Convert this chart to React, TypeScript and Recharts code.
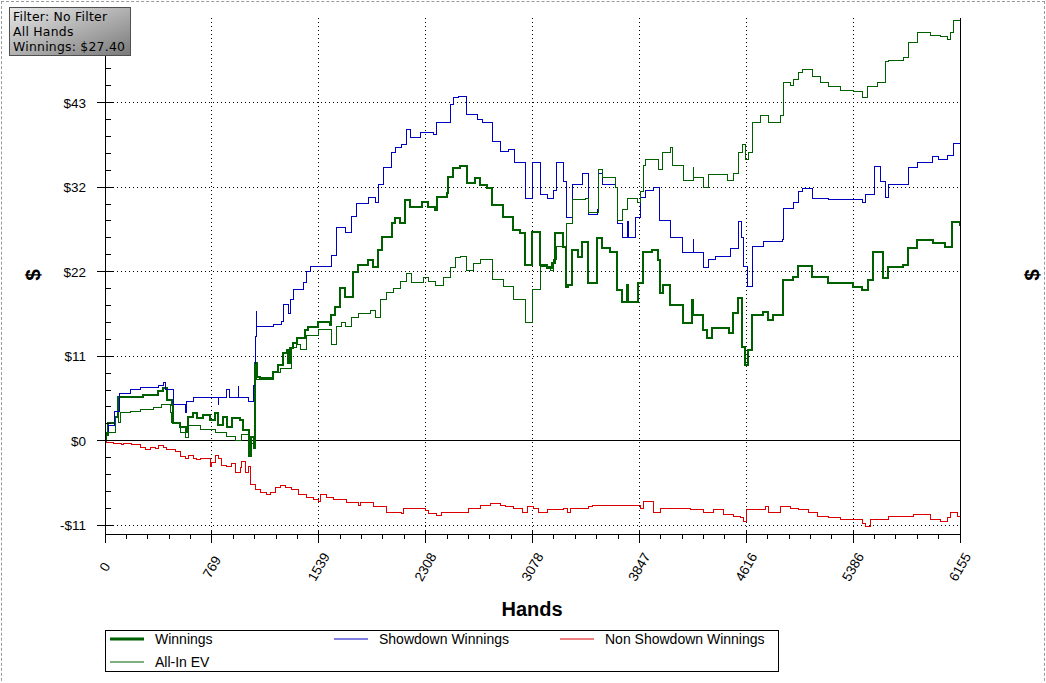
import React from 'react';
import { LineChart, Line, XAxis, YAxis, CartesianGrid, ReferenceLine } from 'recharts';

// ---- axis ticks ----
const xMajor = [0, 769.375, 1538.75, 2308.125, 3077.5, 3846.875, 4616.25, 5385.625, 6155];
const xLabels = ['0', '769', '1539', '2308', '3078', '3847', '4616', '5386', '6155'];
const yMajor = [-10.8, 0, 10.8, 21.6, 32.4, 43.2, 54];
const yLabels = ['-$11', '$0', '$11', '$22', '$32', '$43', '$54'];
const yDomain: [number, number] = [-11.9, 54];

// ---- series: [hand, dollars] ----
const winnings: [number, number][] = [
  [0, 0], [7, 0.8], [22, 2.3], [72, 3.1], [94, 5.6], [274, 5.9], [382, 6.3], [418, 6.8], [446, 5.2], [482, 4.6],
  [490, 2.3], [540, 1.8], [583, 1.1], [598, 3.1], [634, 3.6], [662, 2.9], [706, 3.3], [756, 2.7], [792, 3.6],
  [814, 2.0], [850, 3.1], [878, 1.8], [914, 2.9], [972, 2.7], [994, 1.4], [1037, -2.0], [1051, 0.5], [1073, -0.9],
  [1080, 10.0], [1094, 8.2], [1116, 8.0], [1210, 8.8], [1246, 9.7], [1282, 11.2], [1310, 11.6], [1318, 10.0],
  [1332, 11.9], [1354, 12.5], [1382, 13.1], [1440, 14.2], [1462, 14.6], [1534, 15.2], [1620, 14.8], [1627, 16.1],
  [1656, 17.1], [1692, 19.5], [1728, 18.4], [1786, 21.6], [1822, 22.5], [1894, 23.1], [1930, 22.2], [1966, 24.4],
  [1994, 26.0], [2066, 27.8], [2088, 28.5], [2124, 27.8], [2160, 30.8], [2196, 29.9], [2282, 30.5], [2326, 29.9],
  [2376, 29.5], [2390, 31.1], [2462, 31.7], [2470, 33.7], [2506, 34.9], [2556, 35.1], [2606, 32.9], [2664, 33.6],
  [2700, 32.7], [2750, 32.3], [2786, 30.1], [2866, 28.6], [2938, 26.9], [2988, 26.6], [3024, 22.5], [3074, 26.7],
  [3132, 22.5], [3182, 22.1], [3218, 22.7], [3240, 26.6], [3298, 24.8], [3319, 19.7], [3334, 19.9], [3362, 24.4],
  [3406, 23.5], [3434, 25.4], [3478, 20.2], [3542, 25.9], [3578, 24.6], [3636, 24.1], [3686, 19.3], [3722, 17.7],
  [3758, 19.9], [3766, 17.7], [3838, 20.2], [3874, 24.1], [3938, 24.4], [3982, 23.1], [3996, 18.9], [4018, 19.9],
  [4068, 17.4], [4162, 15.1], [4226, 18.0], [4234, 16.1], [4306, 14.2], [4334, 13.1], [4370, 14.4], [4493, 13.8],
  [4522, 16.3], [4558, 18.3], [4586, 12.0], [4608, 9.7], [4630, 11.6], [4658, 16.1], [4738, 16.5], [4774, 15.4],
  [4810, 16.1], [4882, 20.6], [4954, 20.9], [4990, 22.3], [5090, 20.9], [5206, 20.2], [5386, 19.7], [5450, 19.3],
  [5494, 20.6], [5530, 24.1], [5602, 20.8], [5638, 22.2], [5746, 22.5], [5782, 24.6], [5846, 25.7], [5962, 25.3],
  [6048, 24.8], [6098, 28.0], [6155, 27.4],
];

const showdown: [number, number][] = [
  [0, 0], [7, 1.1], [22, 2.0], [65, 3.7], [101, 6.1], [180, 6.5], [252, 6.8], [382, 7.1], [418, 7.4], [432, 6.5],
  [490, 4.6], [583, 3.6], [590, 5.0], [634, 5.5], [814, 4.6], [820, 5.5], [878, 6.6], [893, 5.5], [958, 6.9],
  [964, 5.5], [1030, 5.0], [1066, 7.1], [1080, 13.3], [1088, 16.5], [1094, 14.6], [1210, 14.8], [1274, 15.2],
  [1282, 17.4], [1318, 16.3], [1332, 18.1], [1354, 19.3], [1426, 20.2], [1454, 21.6], [1476, 22.2], [1627, 23.7],
  [1670, 27.3], [1728, 26.6], [1778, 28.6], [1807, 30.3], [1894, 31.1], [1944, 30.5], [1966, 32.7], [2002, 34.9],
  [2066, 36.8], [2088, 37.4], [2138, 37.8], [2167, 39.7], [2196, 38.7], [2268, 39.4], [2362, 39.1], [2390, 40.6],
  [2484, 42.9], [2506, 43.8], [2542, 44.0], [2599, 41.7], [2678, 41.0], [2714, 40.6], [2786, 38.2], [2844, 36.9],
  [2902, 37.2], [2945, 35.5], [3024, 31.0], [3074, 35.5], [3132, 31.4], [3182, 31.0], [3226, 32.0], [3247, 35.5],
  [3298, 33.1], [3319, 28.5], [3362, 32.7], [3434, 34.2], [3478, 28.9], [3542, 29.5], [3550, 34.2], [3578, 32.7],
  [3672, 32.4], [3686, 27.8], [3722, 26.0], [3758, 28.0], [3772, 26.0], [3816, 28.5], [3852, 31.1], [3888, 32.0],
  [3946, 32.4], [3989, 28.2], [4068, 26.0], [4154, 24.0], [4234, 25.7], [4240, 24.0], [4306, 22.1], [4342, 23.1],
  [4392, 23.5], [4500, 24.6], [4558, 28.0], [4579, 26.0], [4594, 22.2], [4622, 19.7], [4658, 24.8], [4738, 25.4],
  [4875, 25.7], [4882, 29.7], [4954, 30.4], [4990, 31.8], [5018, 32.2], [5090, 31.0], [5206, 30.8], [5450, 30.4],
  [5472, 31.4], [5537, 35.0], [5580, 33.1], [5616, 31.1], [5638, 32.7], [5782, 34.9], [5846, 35.6], [5954, 36.3],
  [5998, 35.9], [6062, 36.4], [6106, 38.0], [6155, 38.2],
];

const nonShowdown: [number, number][] = [
  [0, 0], [14, -0.2], [58, -0.4], [122, -0.5], [130, -0.3], [194, -0.5], [252, -0.9], [288, -1.1], [324, -0.9],
  [360, -1.0], [382, -0.6], [418, -0.9], [446, -1.1], [504, -1.4], [540, -2.0], [576, -2.2], [598, -1.9],
  [634, -2.2], [662, -2.4], [684, -2.2], [756, -3.3], [770, -2.8], [792, -1.9], [814, -2.2], [842, -3.2],
  [878, -3.3], [914, -2.9], [936, -4.0], [972, -3.4], [986, -2.6], [1008, -4.0], [1030, -3.3], [1044, -5.6],
  [1080, -6.2], [1116, -6.6], [1166, -6.9], [1188, -6.6], [1224, -6.0], [1260, -5.7], [1296, -5.9], [1346, -6.2],
  [1390, -6.9], [1454, -7.3], [1498, -7.5], [1534, -7.8], [1548, -6.9], [1598, -7.2], [1642, -7.5], [1742, -7.9],
  [1822, -8.2], [1836, -7.9], [1930, -8.4], [2030, -9.2], [2138, -9.3], [2146, -8.7], [2304, -8.9], [2326, -9.3],
  [2390, -9.6], [2426, -9.2], [2520, -9.1], [2614, -8.6], [2700, -8.3], [2772, -8.0], [2844, -8.2], [2880, -8.4],
  [2938, -8.6], [3002, -9.1], [3038, -8.4], [3082, -8.7], [3118, -9.1], [3182, -8.8], [3298, -8.6], [3326, -9.1],
  [3348, -8.6], [3478, -8.4], [3506, -8.2], [3852, -8.6], [3874, -7.8], [3946, -9.1], [3996, -8.6], [4212, -8.8],
  [4306, -9.1], [4378, -8.8], [4450, -9.4], [4522, -9.7], [4572, -9.8], [4594, -10.3], [4615, -8.8], [4752, -8.4],
  [4774, -9.1], [4860, -8.4], [4932, -8.6], [4990, -8.8], [5062, -9.2], [5126, -9.7], [5206, -9.8], [5292, -10.1],
  [5450, -10.5], [5472, -11.0], [5508, -10.1], [5638, -9.7], [5818, -9.4], [5940, -10.1], [6012, -10.3],
  [6062, -9.8], [6084, -9.2], [6134, -9.7], [6155, -9.7],
];

const allInEV: [number, number][] = [
  [0, 0], [14, 1.0], [72, 3.1], [94, 2.3], [108, 3.6], [180, 3.7], [252, 4.0], [346, 4.3], [410, 4.6], [468, 3.6],
  [482, 2.3], [540, 1.1], [583, 0.4], [598, 2.0], [684, 1.4], [792, 1.0], [878, 0.5], [936, 0.1], [986, 0.8],
  [1030, -0.3], [1066, 0.4], [1080, 9.7], [1094, 7.8], [1210, 8.7], [1260, 9.3], [1346, 11.9], [1382, 12.3],
  [1404, 11.6], [1454, 13.5], [1534, 14.2], [1634, 12.3], [1670, 14.6], [1706, 15.1], [1728, 14.6], [1778, 15.7],
  [1822, 16.3], [1908, 16.7], [1944, 15.7], [1980, 18.0], [2030, 18.9], [2074, 19.5], [2124, 20.3], [2174, 21.4],
  [2210, 20.2], [2290, 20.9], [2326, 20.3], [2376, 19.9], [2434, 20.8], [2484, 22.1], [2520, 23.4], [2556, 23.6],
  [2599, 21.8], [2650, 22.7], [2700, 23.1], [2786, 20.6], [2866, 19.7], [2938, 18.0], [3024, 15.1], [3074, 19.3],
  [3132, 22.2], [3204, 21.8], [3226, 23.1], [3247, 24.8], [3319, 27.8], [3362, 30.8], [3456, 31.0], [3478, 29.2],
  [3550, 34.6], [3578, 33.6], [3672, 32.4], [3686, 28.2], [3722, 29.5], [3758, 31.0], [3830, 30.5], [3852, 31.8],
  [3874, 35.2], [3888, 35.9], [3982, 34.6], [4010, 36.8], [4068, 37.4], [4082, 35.2], [4162, 33.3], [4234, 34.9],
  [4240, 33.6], [4306, 32.4], [4342, 34.0], [4478, 33.3], [4522, 34.2], [4558, 36.8], [4586, 37.8], [4608, 35.9],
  [4630, 36.8], [4658, 40.7], [4716, 41.6], [4774, 40.7], [4860, 41.6], [4882, 45.8], [4932, 45.4], [4954, 46.1],
  [4990, 47.1], [5018, 47.4], [5090, 46.5], [5148, 45.8], [5206, 45.2], [5292, 44.8], [5386, 44.6], [5450, 43.9],
  [5486, 45.2], [5558, 45.8], [5616, 48.4], [5638, 48.6], [5746, 49.0], [5782, 50.9], [5846, 52.1], [5940, 51.8],
  [6012, 51.6], [6062, 51.2], [6084, 52.2], [6106, 53.7], [6155, 53.5],
];

const rows = (pts: [number, number][]) => pts.map(([h, v]) => ({ h, v }));

// minor tick subdivisions (5 per major interval)
const subdivide = (majors: number[]) => {
  const out: number[] = [];
  majors.forEach((m, i) => {
    out.push(m);
    if (i < majors.length - 1) {
      const step = (majors[i + 1] - m) / 5;
      for (let j = 1; j < 5; j++) out.push(m + step * j);
    }
  });
  return out;
};
const xTicks = subdivide(xMajor);
const yTicks = subdivide(yMajor);
const xLabelMap = new Map(xMajor.map((v, i) => [v, xLabels[i]]));
const yLabelMap = new Map(yMajor.map((v, i) => [v, yLabels[i]]));
const yTop = yMajor[yMajor.length - 1];

const FONT = "'Liberation Sans', Arial, sans-serif";
const GREEN = '#006000';
const BLUE = '#0000c0';
const RED = '#dd0000';
const CRISP = 'crispEdges';

const LeftTick = (p: any) => {
  const { x, y, payload } = p;
  const label = yLabelMap.get(payload.value);
  if (label === undefined) return <line x1={x} x2={x + 6} y1={y} y2={y} stroke="#000" shapeRendering={CRISP} />;
  // the top label on the left side sits under the filter box
  if (payload.value === yTop) return <g />;
  return (
    <g>
      <line x1={x - 8} x2={x + 8} y1={y} y2={y} stroke="#000" shapeRendering={CRISP} />
      <text x={x - 19} y={y} dy={5} textAnchor="end" fontFamily={FONT} fontSize={13.5} fill="#000">{label}</text>
    </g>
  );
};

const RightTick = (p: any) => {
  const { x, y, payload } = p;
  const label = yLabelMap.get(payload.value);
  if (label === undefined) return <line x1={x - 5} x2={x + 4} y1={y} y2={y} stroke="#000" shapeRendering={CRISP} />;
  return (
    <g>
      <line x1={x - 9} x2={x + 9} y1={y} y2={y} stroke="#000" shapeRendering={CRISP} />
      <text x={x + 16} y={y} dy={5} textAnchor="start" fontFamily={FONT} fontSize={13.5} fill="#000">{label}</text>
    </g>
  );
};

const BottomTick = (p: any) => {
  const { x, y, payload } = p;
  const label = xLabelMap.get(payload.value);
  if (label === undefined) return <line x1={x} x2={x} y1={y} y2={y + 5} stroke="#000" shapeRendering={CRISP} />;
  const cy = y + 33;
  return (
    <g>
      <line x1={x} x2={x} y1={y - 4} y2={y + 9} stroke="#000" shapeRendering={CRISP} />
      <text x={x} y={cy} textAnchor="middle" dominantBaseline="central" transform={`rotate(-60, ${x}, ${cy})`}
        fontFamily={FONT} fontSize={13.5} fill="#000">{label}</text>
    </g>
  );
};

const TopTick = (p: any) => {
  const { x, y, payload } = p;
  if (xLabelMap.has(payload.value)) return <g />;
  return <line x1={x} x2={x} y1={y} y2={y + 5} stroke="#000" shapeRendering={CRISP} />;
};

const legendItems = [
  { name: 'Winnings', color: GREEN, w: 3, left: 110, top: 639 },
  { name: 'Showdown Winnings', color: BLUE, w: 1, left: 334, top: 639 },
  { name: 'Non Showdown Winnings', color: RED, w: 1, left: 560, top: 639 },
  { name: 'All-In EV', color: GREEN, w: 1, left: 110, top: 662 },
];

export default function App() {
  return (
    <div style={{ position: 'absolute', left: 0, top: 0, width: 1046, height: 683, background: '#fff', overflow: 'hidden' }}>
      <div style={{ position: 'absolute', left: 1, top: 1, width: 1044, height: 720, boxSizing: 'border-box', border: '1px dashed #9a9a9a' }} />
      <LineChart width={1046} height={683} margin={{ top: 18, right: 26, bottom: 89, left: 45 }}>
        <CartesianGrid xAxisId="bottom" yAxisId="left" stroke="#000" strokeDasharray="1 3" shapeRendering={CRISP}
          horizontalValues={yMajor.slice(0, -1)} verticalValues={xMajor.slice(1, -1)} />
        <XAxis xAxisId="bottom" dataKey="h" type="number" domain={[0, 6155]} ticks={xTicks} interval={0}
          height={60} tickSize={0} tickMargin={0} tickLine={false} axisLine={{ stroke: '#000', shapeRendering: CRISP }} tick={(p: any) => <BottomTick {...p} />} />
        <XAxis xAxisId="top" orientation="top" dataKey="h" type="number" domain={[0, 6155]} ticks={xTicks} interval={0}
          height={0} tickSize={0} tickMargin={0} tickLine={false} axisLine={{ stroke: '#000', shapeRendering: CRISP }} tick={(p: any) => <TopTick {...p} />} />
        <YAxis yAxisId="left" type="number" domain={yDomain} ticks={yTicks} interval={0} width={60}
          tickSize={0} tickMargin={0} tickLine={false} axisLine={{ stroke: '#000', shapeRendering: CRISP }} tick={(p: any) => <LeftTick {...p} />} />
        <YAxis yAxisId="right" orientation="right" type="number" domain={yDomain} ticks={yTicks} interval={0} width={60}
          tickSize={0} tickMargin={0} tickLine={false} axisLine={{ stroke: '#000', shapeRendering: CRISP }} tick={(p: any) => <RightTick {...p} />} />
        <ReferenceLine xAxisId="bottom" yAxisId="left" y={0} stroke="#000" strokeWidth={1} shapeRendering={CRISP} />
        <Line xAxisId="bottom" yAxisId="left" data={rows(winnings)} dataKey="v" type="stepAfter" stroke={GREEN}
          strokeWidth={2} dot={false} isAnimationActive={false} shapeRendering={CRISP} />
        <Line xAxisId="bottom" yAxisId="left" data={rows(showdown)} dataKey="v" type="stepAfter" stroke={BLUE}
          strokeWidth={1} dot={false} isAnimationActive={false} shapeRendering={CRISP} />
        <Line xAxisId="bottom" yAxisId="left" data={rows(nonShowdown)} dataKey="v" type="stepAfter" stroke={RED}
          strokeWidth={1} dot={false} isAnimationActive={false} shapeRendering={CRISP} />
        <Line xAxisId="bottom" yAxisId="left" data={rows(allInEV)} dataKey="v" type="stepAfter" stroke={GREEN}
          strokeWidth={1} dot={false} isAnimationActive={false} shapeRendering={CRISP} />
      </LineChart>
      <div style={{ position: 'absolute', left: 105, top: 630, width: 674, height: 42, boxSizing: 'border-box',
        border: '1px solid #000', background: '#fff' }} />
      <svg width={1046} height={683} style={{ position: 'absolute', left: 0, top: 0, pointerEvents: 'none' }}>
        <text x={532} y={616} textAnchor="middle" fontFamily={FONT} fontWeight="bold" fontSize={20} fill="#000">Hands</text>
        <text x={32} y={275} textAnchor="middle" dominantBaseline="central" transform="rotate(-90, 32, 275)"
          fontFamily={FONT} fontWeight="bold" fontSize={21} fill="#000">$</text>
        <text x={1031} y={275} textAnchor="middle" dominantBaseline="central" transform="rotate(-90, 1031, 275)"
          fontFamily={FONT} fontWeight="bold" fontSize={21} fill="#000">$</text>
        {legendItems.map((it) => (
          <g key={it.name}>
            <line x1={it.left} x2={it.left + 34} y1={it.top} y2={it.top} stroke={it.color} strokeWidth={it.w} />
            <text x={it.left + 45} y={it.top + 5} fontFamily={FONT} fontSize={14} fill="#000">{it.name}</text>
          </g>
        ))}
      </svg>
      <div style={{ position: 'absolute', left: 9, top: 7, width: 122, height: 49, boxSizing: 'border-box',
        border: '1px solid #505050', background: 'linear-gradient(to bottom right, #e8e8e8, #7a7a7a)',
        fontFamily: "'DejaVu Sans', Verdana, sans-serif", fontSize: 12.4, lineHeight: '15px', color: '#000',
        padding: '1px 0 0 3px', whiteSpace: 'nowrap', letterSpacing: '0.25px' }}>
        <div>Filter: No Filter</div>
        <div>All Hands</div>
        <div>Winnings: $27.40</div>
      </div>
    </div>
  );
}
